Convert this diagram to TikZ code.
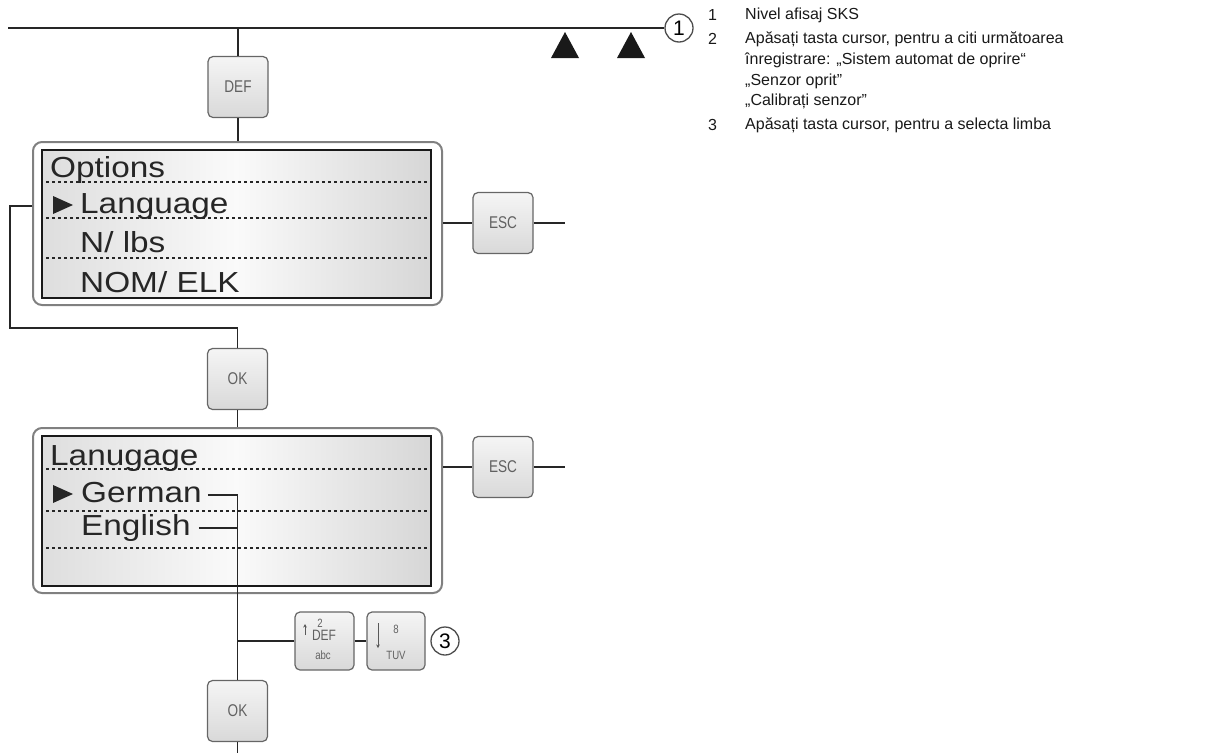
\documentclass[tikz,border=0pt]{standalone}
\usepackage{fontspec}
\setmainfont{Liberation Sans}
\newfontfamily\lcdfont[FakeStretch=1.15]{Liberation Sans}
\newfontfamily\keyfont[FakeStretch=0.8]{Liberation Sans}
\usepackage{tikz}
\usetikzlibrary{arrows.meta}
\tikzset{
    wire/.style={
        line width=1.3pt,
        black!85
    },
    % keys of the operating panel
    keybox/.style={
        draw=black!60,
        line width=1.2pt,
        rounded corners=5pt,
        top color=black!4,
        bottom color=black!15,
        minimum width=60pt,
        minimum height=61pt,
        font=\keyfont\fontsize{17}{17}\selectfont,
        text=black!62
    },
    keytiny/.style={
        inner sep=0pt,
        font=\keyfont\fontsize{12}{12}\selectfont,
        text=black!62
    },
    keysmall/.style={
        inner sep=0pt,
        font=\keyfont\fontsize{15}{15}\selectfont,
        text=black!62
    },
    % display: white frame and shaded screen
    lcdframe/.style={
        draw=black!50,
        line width=2pt,
        rounded corners=9pt,
        fill=white,
        minimum width=409pt
    },
    lcdbox/.style={
        draw=black!90,
        line width=1.8pt,
        left color=black!13,
        right color=black!16,
        middle color=black!2,
        minimum width=389pt
    },
    rowtext/.style={
        anchor=base west,
        inner sep=0pt,
        text height=20pt,
        text depth=6pt,
        font=\lcdfont\fontsize{29}{29}\selectfont,
        text=black!85
    },
    dotrule/.style={
        line width=1.3pt,
        dash pattern=on 3pt off 3pt,
        black!85
    },
    numring/.style={
        circle,
        draw=black!70,
        line width=1.3pt,
        minimum size=28pt,
        inner sep=0pt,
        fill=white,
        font=\fontsize{21}{21}\selectfont
    },
    notetext/.style={
        anchor=west,
        inner sep=0pt,
        font=\fontsize{16}{18}\selectfont,
        text=black!90
    }
}

\begin{document}
\begin{tikzpicture}[x=1pt, y=-1pt]
	\useasboundingbox (0,0) rectangle (1205,753);

	% level line
	\coordinate (lstart) at (8,28);
	\node[numring] (n1) at (679,28) {1};
	\draw[wire] (lstart) -- (n1);
	\fill[black!90] (551,58) -- (565,32) -- (579,58) -- cycle;
	\fill[black!90] (617,58) -- (631,32) -- (645,58) -- cycle;

	% options menu
	\node[keybox] (def) at (238,87) {DEF};
	\node[lcdframe, minimum height=163pt] (optf) at (237.5,223.5) {};
	\node[lcdbox, minimum height=148pt] (opt) at (236.5,224) {};
	\draw[wire] (def.north) -- (def.north |- lstart);
	\draw[wire] (def.south) -- (def.south |- optf.north);

	\node[rowtext] (o1) at (50,177) {Options};
	\node[rowtext] (o2) at (80,213) {Language};
	\node[rowtext] (o3) at (80,252) {N/ lbs};
	\node[rowtext] (o4) at (80,292) {NOM/ ELK};
	\foreach \y in {182,218,258}
		\draw[dotrule] (46,\y) -- (428,\y);
	\fill[black!85] (53,196) -- (73,205) -- (53,214) -- cycle;

	\node[keybox] (esc1) at (503,223) {ESC};
	\coordinate (out1) at (565,223);
	\draw[wire] (optf.east |- esc1) -- (esc1) -- (out1);

	\coordinate (back) at (10,328);
	\node[keybox] (ok1) at (237.5,379) {OK};
	\draw[wire] (optf.west |- o2.west) -| (back) -| (ok1.north);

	% language menu
	\node[lcdframe, minimum height=165pt] (lanf) at (237.5,510.5) {};
	\node[lcdbox, minimum height=150pt] (lan) at (236.5,511) {};
	\draw[wire] (ok1) -- (ok1 |- lanf.north);

	\node[rowtext] (l1) at (50,465) {Lanugage};
	\node[rowtext] (l2) at (81,502) {German};
	\node[rowtext] (l3) at (81,535) {English};
	\foreach \y in {469,511,548}
		\draw[dotrule] (46,\y) -- (428,\y);
	\fill[black!85] (53,485) -- (73,494) -- (53,503) -- cycle;

	\node[keybox] (esc2) at (503,467) {ESC};
	\coordinate (out2) at (565,467);
	\draw[wire] (lanf.east |- esc2) -- (esc2) -- (out2);

	% cursor keys and confirm
	\node[keybox, minimum width=59pt, minimum height=58pt] (up) at (324.5,641) {};
	\node[keytiny] (up2) at (320,623) {2};
	\node[keysmall] (updef) at (324,635) {DEF};
	\node[keytiny] (upabc) at (323,655) {abc};
	\draw[black!65, line width=0.9pt, -{Stealth[length=3.5pt, width=3.5pt]}] (305,635) -- (305,624);

	\node[keybox, minimum width=58pt, minimum height=58pt] (down) at (396,641) {};
	\node[keytiny] (dn8) at (396,629) {8};
	\node[keytiny] (dntuv) at (396,655) {TUV};
	\draw[black!65, line width=0.9pt, -{Stealth[length=3.5pt, width=3.5pt]}] (378,623) -- (378,648);

	\node[numring] (n3) at (445,641) {3};

	\node[keybox] (ok2) at (237.5,711) {OK};
	\coordinate (exit) at (237.5,753);

	\draw[wire] ([xshift=6pt]l2.east) -| (ok2.north);
	\draw[wire] ([xshift=8pt]l3.east) -- (l3.east -| ok2.north);
	\draw[wire] (up.west) -- (up.west -| ok2.north);
	\draw[wire] (up) -- (down);
	\draw[wire] (ok2) -- (exit);

	% legend
	\node[notetext] (k1) at (708,15) {1};
	\node[notetext] (t1) at (745,15) {Nivel afisaj SKS};
	\node[notetext] (k2) at (708,39) {2};
	\node[notetext] (t2) at (745,39) {Apăsați tasta cursor, pentru a citi următoarea};
	\node[notetext] (t2b) at (745,60) {înregistrare: „Sistem automat de oprire“};
	\node[notetext] (t2c) at (745,81) {„Senzor oprit”};
	\node[notetext] (t2d) at (745,101) {„Calibrați senzor”};
	\node[notetext] (k3) at (708,125) {3};
	\node[notetext] (t3) at (745,125) {Apăsați tasta cursor, pentru a selecta limba};
\end{tikzpicture}
\end{document}
